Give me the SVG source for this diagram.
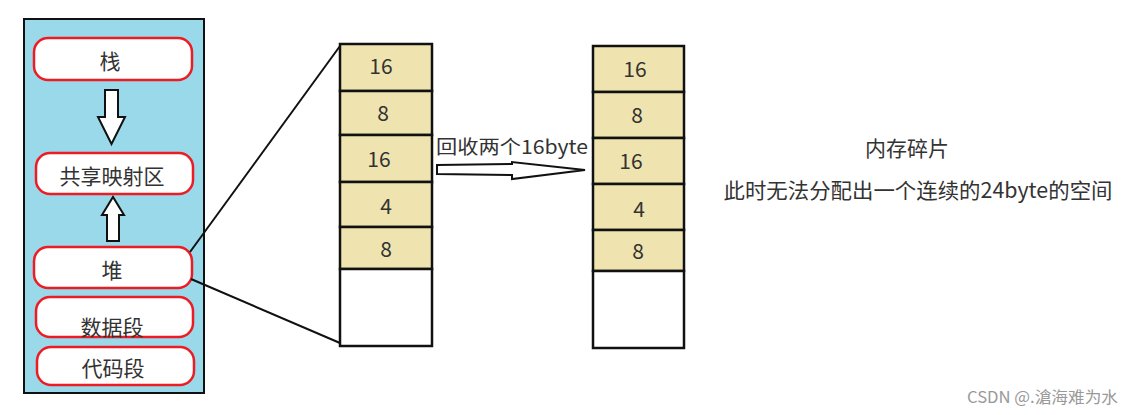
<svg xmlns="http://www.w3.org/2000/svg" width="1134" height="415" viewBox="0 0 1134 415">
<style>
text{font-family:"Noto Sans CJK SC","Noto Sans",sans-serif;fill:#333;}
.seg{fill:#fff;stroke:#ED1C24;stroke-width:2.5;}
.t{font-size:21px;text-anchor:middle;dominant-baseline:central;}
.cell{fill:#EFE4B0;stroke:#111;stroke-width:2.5;}
.empty{fill:#fff;stroke:#111;stroke-width:2.5;}
.blk{fill:#fff;stroke:#111;stroke-width:2;}
.ln{stroke:#111;stroke-width:2;fill:none;}
</style>
<rect width="1134" height="415" fill="#fff"/>
<g id="panel">
<rect x="24" y="19" width="180" height="374" fill="#99D9EA" stroke="#111" stroke-width="2"/>
</g>
<g id="stack"><rect class="seg" x="34" y="38" width="158" height="42" rx="14"/><text class="t" x="110" y="60">栈</text></g>
<g id="mmap"><rect class="seg" x="36" y="153" width="157" height="41" rx="14"/><text class="t" x="112" y="175">共享映射区</text></g>
<g id="heap"><rect class="seg" x="34" y="247" width="158" height="41" rx="14"/><text class="t" x="112" y="269">堆</text></g>
<g id="data"><rect class="seg" x="36" y="297" width="157" height="40" rx="14"/><text class="t" x="112" y="326">数据段</text></g>
<g id="code"><rect class="seg" x="37" y="347" width="157" height="38" rx="14"/><text class="t" x="113" y="367">代码段</text></g>
<g id="connectors">
<polygon class="blk" points="105,90 118,90 118,117 125,117 111.5,144 98,117 105,117"/>
<polygon class="blk" points="107,241 119,241 119,215 124,215 113,197 102,215 107,215"/>
<line class="ln" x1="190" y1="252" x2="340" y2="46"/>
<line class="ln" x1="191" y1="279" x2="340" y2="343"/>
<polygon class="blk" points="437,165 512,164 512,162 585,170 512,179 512,175 437,174"/>
</g>
<g id="before">
<rect class="cell" x="340" y="44" width="92" height="47"/>
<rect class="cell" x="340" y="91" width="92" height="44"/>
<rect class="cell" x="340" y="135" width="92" height="47"/>
<rect class="cell" x="340" y="182" width="92" height="45"/>
<rect class="cell" x="340" y="227" width="92" height="42"/>
<rect class="empty" x="340" y="269" width="92" height="77"/>
<text class="t" x="381" y="65">16</text>
<text class="t" x="383" y="112">8</text>
<text class="t" x="379" y="158">16</text>
<text class="t" x="386" y="205">4</text>
<text class="t" x="386" y="248">8</text>
</g>
<g id="after">
<rect class="cell" x="593" y="46" width="91" height="46"/>
<rect class="cell" x="593" y="92" width="91" height="46"/>
<rect class="cell" x="593" y="138" width="91" height="46"/>
<rect class="cell" x="593" y="184" width="91" height="46"/>
<rect class="cell" x="593" y="230" width="91" height="41"/>
<rect class="empty" x="593" y="271" width="91" height="77"/>
<text class="t" x="635" y="68">16</text>
<text class="t" x="637" y="114">8</text>
<text class="t" x="631" y="160">16</text>
<text class="t" x="639" y="208">4</text>
<text class="t" x="638" y="250">8</text>
</g>
<g id="label">
<text x="436" y="154" font-size="19" textLength="152" lengthAdjust="spacingAndGlyphs">回收两个16byte</text>
</g>
<g id="note">
<text class="t" x="907" y="147">内存碎片</text>
<text class="t" x="918" y="189" textLength="389" lengthAdjust="spacingAndGlyphs">此时无法分配出一个连续的24byte的空间</text>
</g>
<text x="1118" y="403" font-size="16" text-anchor="end" textLength="151" lengthAdjust="spacingAndGlyphs" style="fill:#999">CSDN @.滄海难为水</text>
</svg>
